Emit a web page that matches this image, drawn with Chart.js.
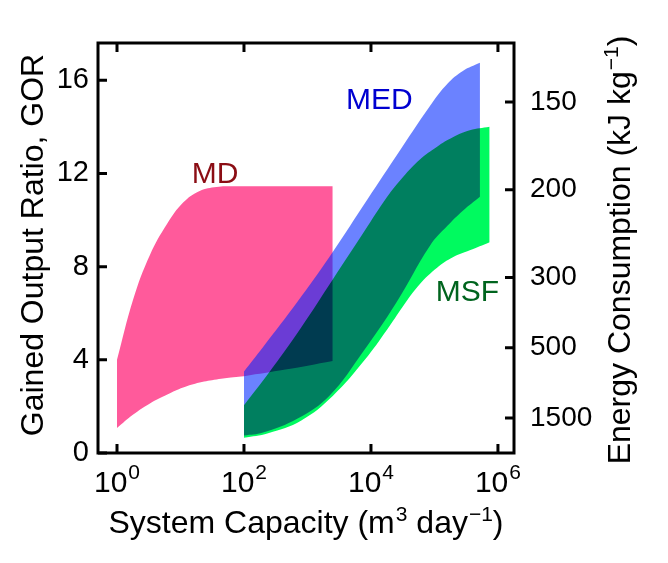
<!DOCTYPE html>
<html>
<head>
<meta charset="utf-8">
<script src="https://cdn.jsdelivr.net/npm/chart.js@4.4.1/dist/chart.umd.min.js"></script>
<style>
  html, body { margin: 0; padding: 0; background: #fff; }
  #wrap { width: 668px; height: 563px; }
</style>
</head>
<body>
<div id="wrap"><canvas id="chart"></canvas></div>
<script>
// System capacity (m3/day) vs gained output ratio
const mdCap  = [1, 1.8, 3.3, 6.2, 11, 20, 37, 68, 100, 450, 2500];
const mdHigh = [4.0, 6.6, 8.5, 9.85, 10.75, 11.25, 11.42, 11.45, 11.45, 11.45, 11.45];
const mdLow  = [1.07, 1.65, 2.13, 2.51, 2.81, 3.03, 3.16, 3.25, 3.3, 3.58, 3.95];

const medCap  = [100, 200, 700, 2200, 7500, 25000, 85000, 160000, 280000, 520000];
const medHigh = [3.5, 4.55, 6.5, 8.4, 10.6, 12.75, 14.9, 15.85, 16.4, 16.75];
const medLow  = [0.75, 0.88, 1.48, 2.45, 4.35, 6.45, 8.9, 9.75, 10.4, 11.0];

const msfCap  = [100, 240, 800, 2500, 8000, 18000, 32000, 59000, 110000, 195000, 360000, 740000];
const msfHigh = [2.05, 3.4, 5.4, 7.45, 9.55, 11.0, 11.85, 12.6, 13.15, 13.55, 13.85, 14.0];
const msfLow  = [0.65, 0.85, 1.4, 2.45, 4.0, 5.3, 6.3, 7.25, 7.95, 8.4, 8.7, 9.05];

const xTicks = [1, 100, 10000, 1000000];
const gorTicks = [0, 4, 8, 12, 16];
const energyTicks = [150, 200, 300, 500, 1500];
const LATENT_HEAT = 2260; // kJ/kg, energy = h_fg / GOR

// where the band names sit (capacity, GOR)
const bandNames = ['MD', 'MED', 'MSF'];
const bandLabelCap = [35, 13500, 330000];
const bandLabelGor = [12.05, 15.25, 7.0];
const bandTextColors = ['#8b0d14', '#0000d0', '#00641e'];

const FONT = '"Liberation Sans", Arial, sans-serif';
Chart.defaults.font.family = FONT;

function band(name, cap, high, low, color, order) {
  const common = {
    borderColor: 'rgba(0,0,0,0)',
    borderWidth: 0,
    pointRadius: 0,
    pointHoverRadius: 0,
    tension: 0.4
  };
  return [
    Object.assign({ label: name + ' high', data: cap.map((x, i) => ({ x: x, y: high[i] })),
      fill: '+1', backgroundColor: color, order: order + 1 }, common),
    Object.assign({ label: name + ' low', data: cap.map((x, i) => ({ x: x, y: low[i] })),
      fill: false, order: order }, common)
  ];
}

// draws one line of text with superscript pieces, centred on (cx, baseline cy)
function drawPieces(ctx, pieces, cx, cy, angle, size, supSize, raise) {
  ctx.save();
  ctx.translate(cx, cy);
  ctx.rotate(angle);
  ctx.textAlign = 'left';
  ctx.textBaseline = 'alphabetic';
  let total = 0;
  const widths = pieces.map(p => {
    ctx.font = (p[1] ? supSize : size) + 'px ' + FONT;
    const w = ctx.measureText(p[0]).width + (p[1] ? 1 : 0);
    total += w;
    return w;
  });
  let x = -total / 2;
  pieces.forEach((p, i) => {
    ctx.font = (p[1] ? supSize : size) + 'px ' + FONT;
    ctx.fillText(p[0], x + (p[1] ? 1 : 0), p[1] ? -raise : 0);
    x += widths[i];
  });
  ctx.restore();
}

const decorPlugin = {
  id: 'decor',
  afterDatasetDraw(chart, args) {
    const label = chart.data.datasets[args.index].label;
    // MSF fill is blended over what is already drawn
    if (label === 'MED low') chart.ctx.globalCompositeOperation = 'multiply';
    if (label === 'MSF high') chart.ctx.globalCompositeOperation = 'source-over';
  },
  afterDraw(chart) {
    const ctx = chart.ctx;
    const a = chart.chartArea;
    const xs = chart.scales.x, ys = chart.scales.y, ys2 = chart.scales.y2;
    ctx.save();
    ctx.globalCompositeOperation = 'source-over';
    ctx.strokeStyle = '#000';
    ctx.fillStyle = '#000';
    ctx.lineWidth = 3;
    ctx.strokeRect(a.left, a.top, a.right - a.left, a.bottom - a.top);

    // inward tick marks
    const tl = 9;
    ctx.beginPath();
    ys.ticks.forEach(t => {
      const y = ys.getPixelForValue(t.value);
      ctx.moveTo(a.left, y); ctx.lineTo(a.left + tl, y);
    });
    ys2.ticks.forEach(t => {
      const y = ys2.getPixelForValue(t.value);
      ctx.moveTo(a.right, y); ctx.lineTo(a.right - tl, y);
    });
    xs.ticks.forEach(t => {
      const x = xs.getPixelForValue(t.value);
      ctx.moveTo(x, a.bottom); ctx.lineTo(x, a.bottom - tl);
      ctx.moveTo(x, a.top); ctx.lineTo(x, a.top + tl);
    });
    ctx.stroke();

    // x tick labels as 10^n
    xs.ticks.forEach(t => {
      const x = xs.getPixelForValue(t.value);
      const exp = String(Math.round(Math.log10(t.value)));
      drawPieces(ctx, [['10', 0], [exp, 1]], x, a.bottom + 39, 0, 30, 21, 13);
    });

    // axis titles
    const midX = (a.left + a.right) / 2;
    const midY = (a.top + a.bottom) / 2;
    drawPieces(ctx, [['System Capacity (m', 0], ['3', 1], [' day', 0], ['\u22121', 1], [')', 0]],
      midX, 533, 0, 32, 21, 12);
    drawPieces(ctx, [['Gained Output Ratio, GOR', 0]], 43, midY - 3, -Math.PI / 2, 32, 21, 12);
    drawPieces(ctx, [['Energy Consumption (kJ kg', 0], ['\u22121', 1], [')', 0]],
      630, midY + 2, -Math.PI / 2, 32, 21, 12);

    // band names
    ctx.font = '30px ' + FONT;
    ctx.textAlign = 'center';
    ctx.textBaseline = 'alphabetic';
    bandNames.forEach((n, i) => {
      ctx.fillStyle = bandTextColors[i];
      ctx.fillText(n, xs.getPixelForValue(bandLabelCap[i]), ys.getPixelForValue(bandLabelGor[i]) + 11);
    });
    ctx.restore();
  }
};

const datasets = [].concat(
  band('MD', mdCap, mdHigh, mdLow, '#ff5a9b', 5),
  band('MED', medCap, medHigh, medLow, 'rgba(0, 40, 255, 0.58)', 3),
  band('MSF', msfCap, msfHigh, msfLow, 'rgb(0, 250, 95)', 1)
);

new Chart(document.getElementById('chart'), {
  type: 'line',
  data: { datasets: datasets },
  options: {
    responsive: true,
    maintainAspectRatio: false,
    animation: false,
    devicePixelRatio: 1,
    layout: { padding: { top: 43, left: 0, right: 0, bottom: 0 } },
    plugins: {
      legend: { display: false },
      tooltip: { enabled: false }
    },
    scales: {
      x: {
        type: 'logarithmic',
        min: 0.502,
        max: 1.79e6,
        grid: { display: false, drawTicks: false },
        border: { display: false },
        ticks: { display: false },
        afterBuildTicks: s => { s.ticks = xTicks.map(v => ({ value: v })); },
        afterFit: s => { s.height = 110; }
      },
      y: {
        position: 'left',
        min: 0,
        max: 17.6,
        grid: { display: false, drawTicks: false },
        border: { display: false },
        ticks: { color: '#000', font: { size: 29 }, padding: 9 },
        afterBuildTicks: s => { s.ticks = gorTicks.map(v => ({ value: v })); },
        afterFit: s => { s.width = 98; }
      },
      y2: {
        position: 'right',
        min: 0,
        max: 17.6,
        grid: { display: false, drawTicks: false },
        border: { display: false },
        ticks: {
          color: '#000',
          font: { size: 28 },
          padding: 16,
          callback: v => String(Math.round(LATENT_HEAT / v))
        },
        afterBuildTicks: s => { s.ticks = energyTicks.map(e => ({ value: LATENT_HEAT / e })); },
        afterFit: s => { s.width = 154; }
      }
    }
  },
  plugins: [decorPlugin]
});
</script>
</body>
</html>
